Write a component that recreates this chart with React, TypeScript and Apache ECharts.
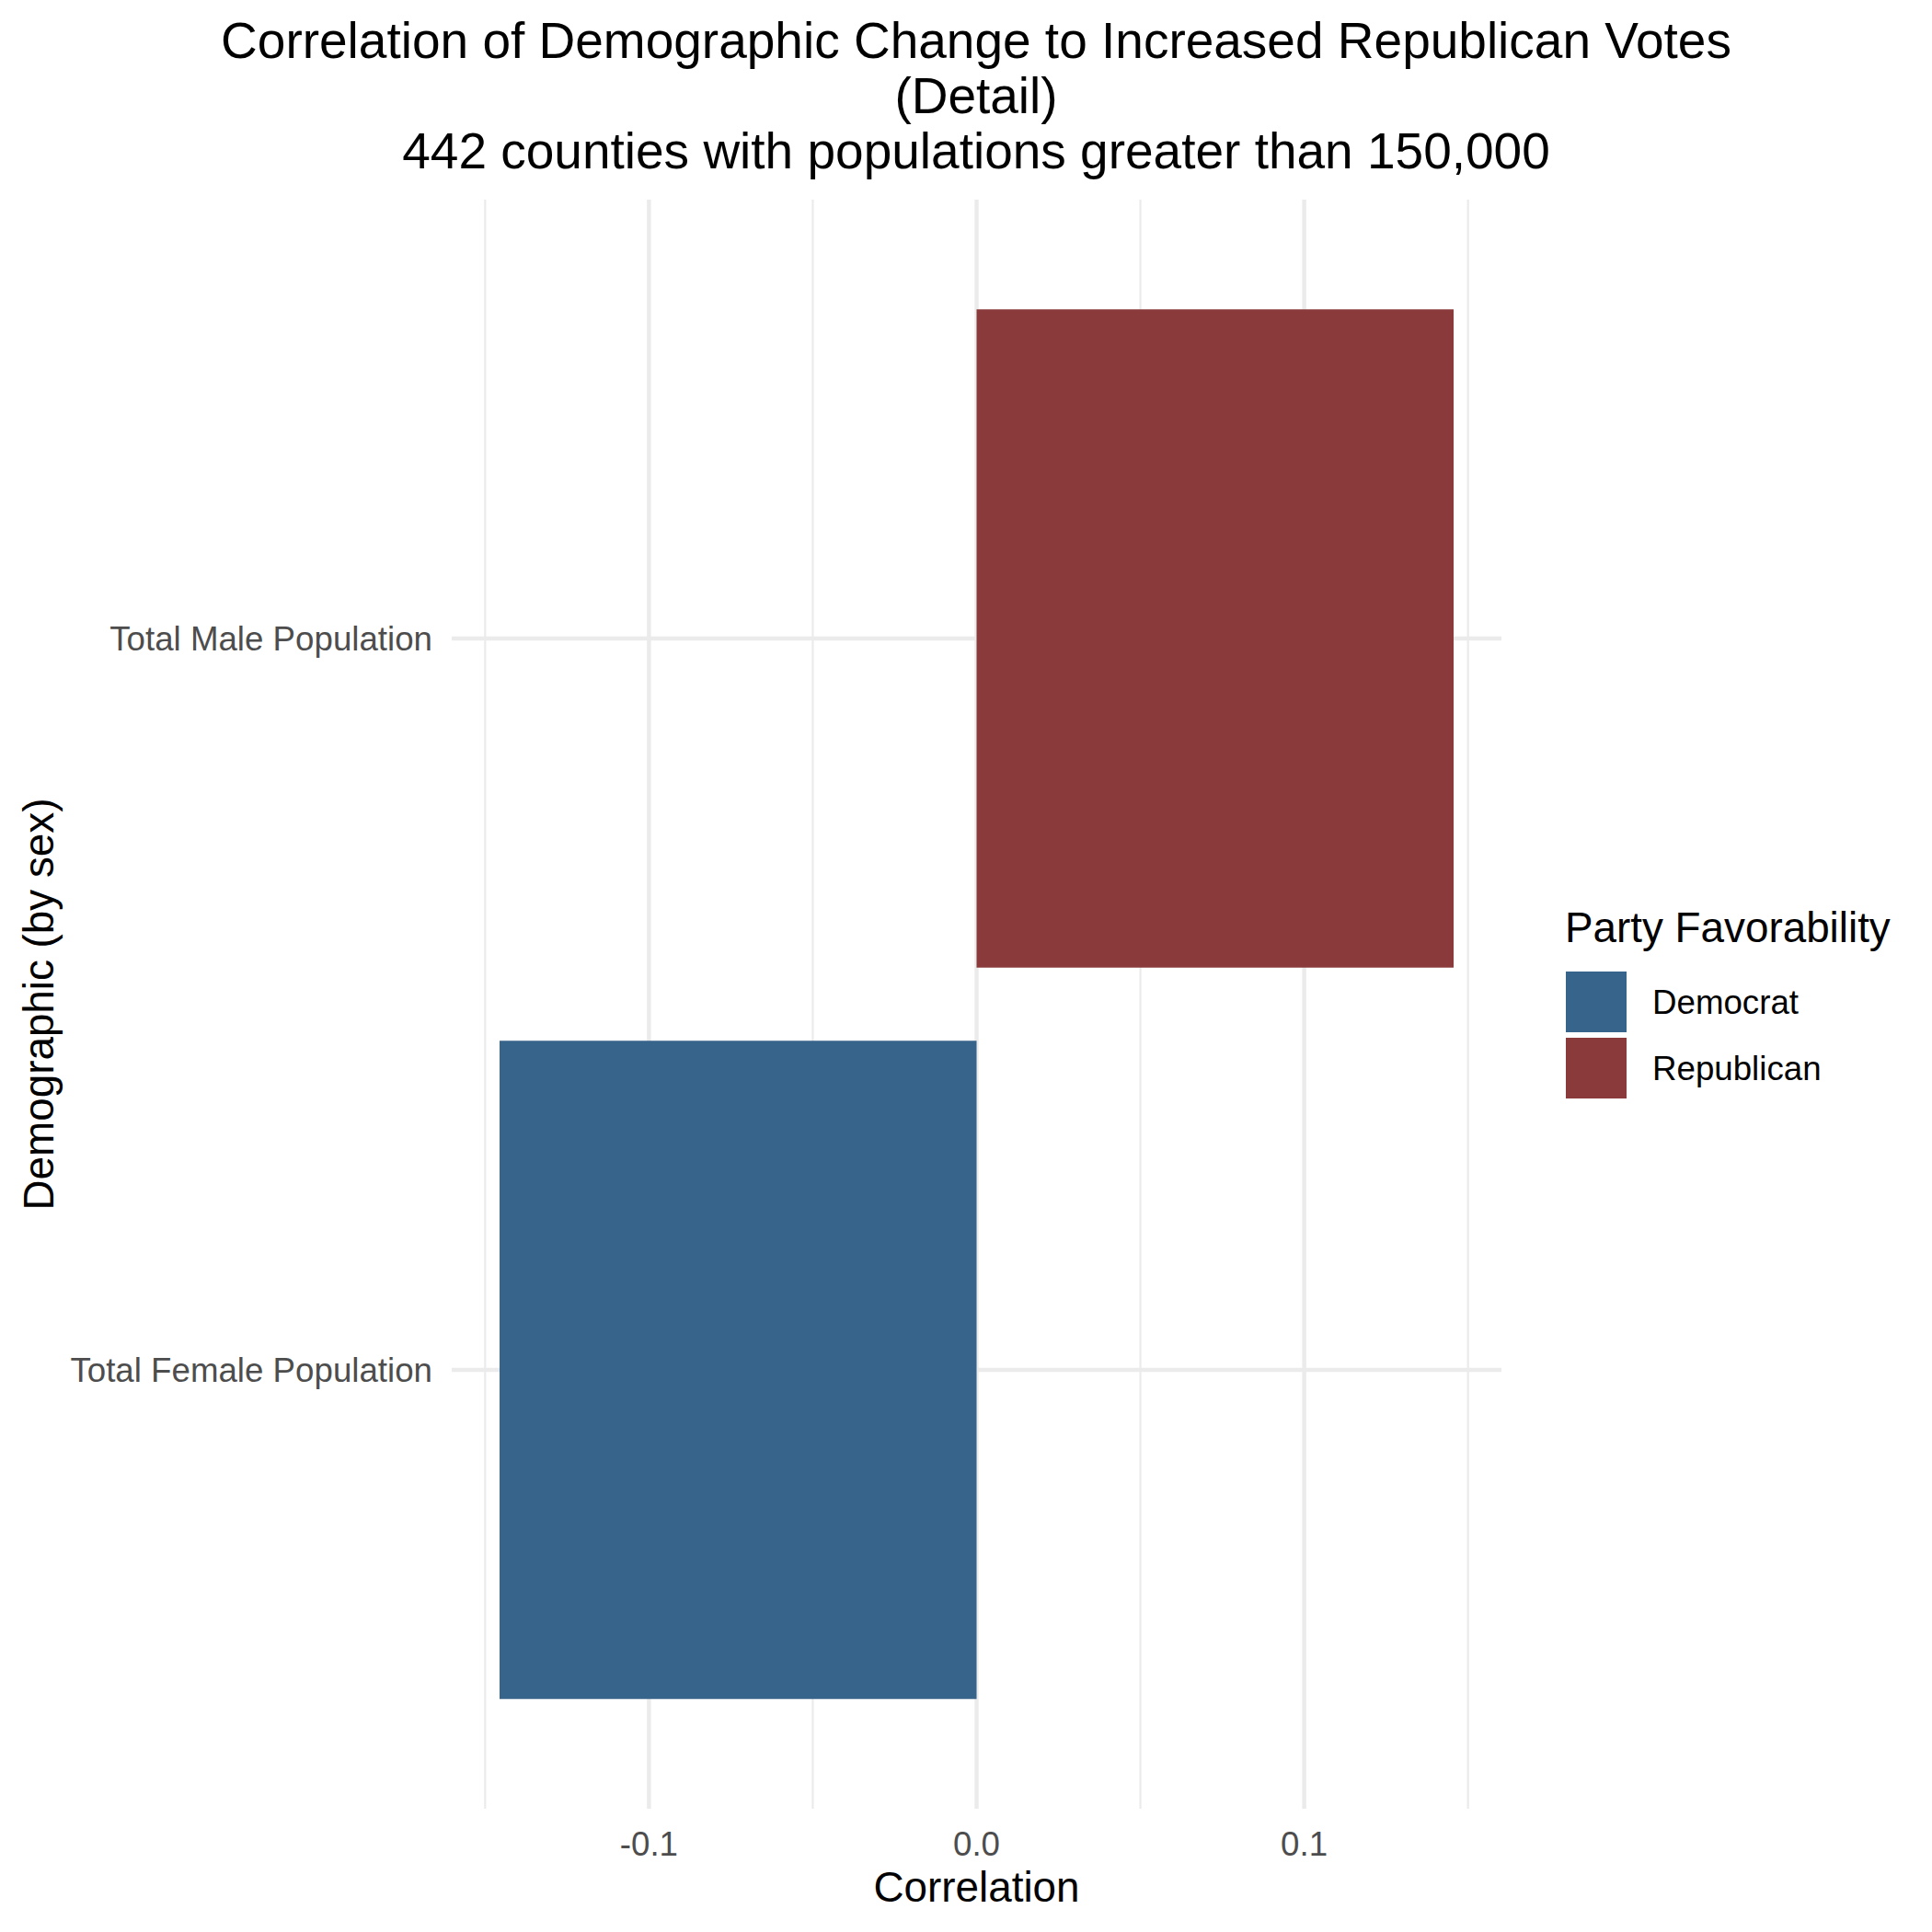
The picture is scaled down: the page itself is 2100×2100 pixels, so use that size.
import React, { useEffect, useRef } from "react";
import * as echarts from "echarts";

// ---- data ----
const categories = ["Total Female Population", "Total Male Population"];
const correlations = [-0.1456, 0.1456];
const barParty = ["Democrat", "Republican"];
const parties = ["Democrat", "Republican"];
const partyColors = ["#37648A", "#8B3A3B"];
const xMajorBreaks = [-0.1, 0.0, 0.1];
const xMinorBreaks = [-0.15, -0.05, 0.05, 0.15];
const titleLines = [
  "Correlation of Demographic Change to Increased Republican Votes",
  "(Detail)",
  "442 counties with populations greater than 150,000",
];
const xAxisTitle = "Correlation";
const yAxisTitle = "Demographic (by sex)";
const legendTitle = "Party Favorability";

// ---- layout ----
const X_MIN = -0.1602;
const X_MAX = 0.1602;
const Y_MIN = 0.4;
const Y_MAX = 2.6;
const BAR_HALF = 0.45;
const FONT = "'Liberation Sans', Arial, Helvetica, sans-serif";
const GRID_COLOR = "#EBEBEB";

const catPositions = categories.map((_, i) => i + 1);

function vLine(width: number) {
  return (params: any, api: any) => {
    const x = api.value(0);
    const p1 = api.coord([x, Y_MIN]);
    const p2 = api.coord([x, Y_MAX]);
    return {
      type: "line",
      shape: { x1: p1[0], y1: p1[1], x2: p2[0], y2: p2[1] },
      style: { stroke: GRID_COLOR, lineWidth: width },
    };
  };
}

function hLine(width: number) {
  return (params: any, api: any) => {
    const y = api.value(1);
    const p1 = api.coord([X_MIN, y]);
    const p2 = api.coord([X_MAX, y]);
    return {
      type: "line",
      shape: { x1: p1[0], y1: p1[1], x2: p2[0], y2: p2[1] },
      style: { stroke: GRID_COLOR, lineWidth: width },
    };
  };
}

function barItem(params: any, api: any) {
  const v = api.value(0);
  const y = api.value(1);
  const a = api.coord([0, y + BAR_HALF]);
  const b = api.coord([v, y - BAR_HALF]);
  return {
    type: "rect",
    shape: {
      x: Math.min(a[0], b[0]),
      y: Math.min(a[1], b[1]),
      width: Math.abs(b[0] - a[0]),
      height: Math.abs(b[1] - a[1]),
    },
    style: { fill: api.visual("color") },
  };
}

export default function App() {
  const ref = useRef<HTMLDivElement>(null);
  useEffect(() => {
    document.body.style.margin = "0";
    const chart = echarts.init(ref.current!, null, { renderer: "svg" });
    const barSeries = parties.map((p, pi) => ({
      type: "custom",
      name: p,
      z: 3,
      itemStyle: { color: partyColors[pi] },
      encode: { x: 0, y: 1 },
      data: categories
        .map((c, ci) => (barParty[ci] === p ? [correlations[ci], catPositions[ci]] : null))
        .filter((d) => d !== null),
      renderItem: barItem,
    }));
    chart.setOption({
      animation: false,
      backgroundColor: "#FFFFFF",
      textStyle: { fontFamily: FONT },
      grid: { left: 491, top: 217, width: 1141, height: 1749, containLabel: false },
      xAxis: {
        type: "value",
        min: X_MIN,
        max: X_MAX,
        axisLine: { show: false },
        axisTick: { show: false },
        splitLine: { show: false },
        axisLabel: {
          customValues: xMajorBreaks,
          formatter: (v: number) => v.toFixed(1),
          fontSize: 36.7,
          color: "#4D4D4D",
          fontFamily: FONT,
          margin: 20,
        },
        name: xAxisTitle,
        nameLocation: "middle",
        nameGap: 62,
        nameTextStyle: { fontSize: 45.8, color: "#000000", fontFamily: FONT },
      },
      yAxis: {
        type: "value",
        min: Y_MIN,
        max: Y_MAX,
        axisLine: { show: false },
        axisTick: { show: false },
        splitLine: { show: false },
        axisLabel: {
          customValues: catPositions,
          formatter: (v: number) => categories[Math.round(v) - 1],
          fontSize: 36.7,
          color: "#4D4D4D",
          fontFamily: FONT,
          margin: 21,
        },
        name: yAxisTitle,
        nameLocation: "middle",
        nameRotate: 90,
        nameGap: 424,
        nameTextStyle: { fontSize: 45.8, color: "#000000", fontFamily: FONT },
      },
      legend: {
        data: parties.map((p) => ({ name: p, icon: "rect" })),
        orient: "vertical",
        left: 1702,
        top: 1056,
        padding: 0,
        itemWidth: 66,
        itemHeight: 66,
        itemGap: 6,
        selectedMode: false,
        textStyle: { fontSize: 36.7, color: "#000000", fontFamily: FONT, padding: [0, 0, 0, 23] },
      },
      graphic: [
        {
          type: "text",
          x: 1061,
          y: 14,
          style: {
            text: titleLines.join("\n"),
            textAlign: "center",
            textVerticalAlign: "top",
            fontSize: 55,
            lineHeight: 60,
            fontFamily: FONT,
            fill: "#000000",
          },
        },
        {
          type: "text",
          x: 1701,
          y: 1008,
          style: {
            text: legendTitle,
            textAlign: "left",
            textVerticalAlign: "middle",
            fontSize: 45.8,
            fontFamily: FONT,
            fill: "#000000",
          },
        },
      ],
      series: [
        {
          type: "custom",
          name: "minorV",
          silent: true,
          z: 1,
          encode: { x: 0, y: 1 },
          data: xMinorBreaks.map((v) => [v, Y_MIN]),
          renderItem: vLine(2.2),
        },
        {
          type: "custom",
          name: "majorV",
          silent: true,
          z: 1,
          encode: { x: 0, y: 1 },
          data: xMajorBreaks.map((v) => [v, Y_MIN]),
          renderItem: vLine(4.4),
        },
        {
          type: "custom",
          name: "majorH",
          silent: true,
          z: 1,
          encode: { x: 0, y: 1 },
          data: catPositions.map((p) => [X_MIN, p]),
          renderItem: hLine(4.4),
        },
        ...barSeries,
      ],
    });
    return () => chart.dispose();
  }, []);
  return <div ref={ref} style={{ width: 2100, height: 2100 }} />;
}
